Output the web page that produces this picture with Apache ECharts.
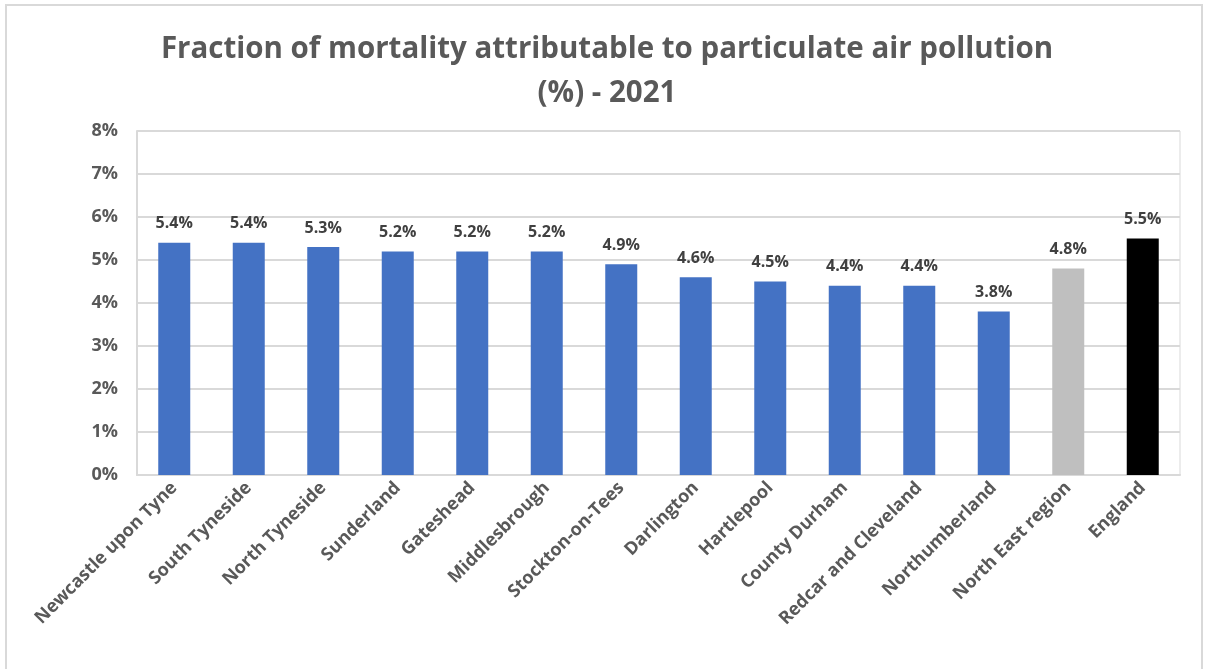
<!DOCTYPE html>
<html>
<head>
<meta charset="utf-8">
<style>
  html, body { margin: 0; padding: 0; background: #fff; }
  #chart { width: 1208px; height: 669px; }
  #frame { position: absolute; left: 5px; top: 4px; width: 1198px; height: 700px; border: 2px solid #d9d9d9; box-sizing: border-box; pointer-events: none; }
</style>
<script src="https://cdn.jsdelivr.net/npm/echarts@6/dist/echarts.min.js"></script>
</head>
<body>
<div id="chart"></div>
<div id="frame"></div>
<script>
// areas shown on the x axis
var categories = ['Newcastle upon Tyne', 'South Tyneside', 'North Tyneside', 'Sunderland', 'Gateshead',
  'Middlesbrough', 'Stockton-on-Tees', 'Darlington', 'Hartlepool', 'County Durham',
  'Redcar and Cleveland', 'Northumberland', 'North East region', 'England']
// fraction of mortality, in percent
var values = [5.4, 5.4, 5.3, 5.2, 5.2, 5.2, 4.9, 4.6, 4.5, 4.4, 4.4, 3.8, 4.8, 5.5]
// bar colours: local authorities blue, region grey, England black
var barColors = ['#4472c4', '#4472c4', '#4472c4', '#4472c4', '#4472c4', '#4472c4', '#4472c4',
  '#4472c4', '#4472c4', '#4472c4', '#4472c4', '#4472c4', '#bfbfbf', '#000000']

var font = '"Open Sans", sans-serif'
var chart = echarts.init(document.getElementById('chart'))

chart.setOption({
  animation: false,
  title: {
    text: 'Fraction of mortality attributable to particulate air pollution\n(%) - 2021',
    left: 602,
    top: 23,
    textAlign: 'center',
    textStyle: {
      fontFamily: font,
      fontSize: 29.5,
      fontWeight: 'bold',
      color: '#595959',
      lineHeight: 44
    }
  },
  grid: {
    left: 137,
    right: 28,
    top: 131,
    bottom: 194,
    show: true,
    borderColor: '#d9d9d9',
    borderWidth: 1
  },
  xAxis: {
    type: 'category',
    data: categories,
    axisLine: { lineStyle: { color: '#d9d9d9', width: 2 } },
    axisTick: { show: false },
    axisLabel: {
      interval: 0,
      rotate: 45,
      margin: 10,
      fontFamily: font,
      fontSize: 18,
      fontWeight: 'bold',
      color: '#595959'
    }
  },
  yAxis: {
    type: 'value',
    min: 0,
    max: 8,
    interval: 1,
    axisLine: { show: true, lineStyle: { color: '#d9d9d9', width: 2 } },
    axisTick: { show: false },
    splitLine: { lineStyle: { color: '#d9d9d9', width: 2 } },
    axisLabel: {
      margin: 19,
      formatter: '{value}%',
      fontFamily: font,
      fontSize: 18,
      fontWeight: 'bold',
      color: '#595959'
    }
  },
  series: [{
    type: 'bar',
    barWidth: 32,
    data: values.map(function (v, i) {
      return { value: v, itemStyle: { color: barColors[i] } }
    }),
    label: {
      show: true,
      position: 'top',
      distance: 11,
      formatter: function (p) { return p.value.toFixed(1) + '%' },
      fontFamily: font,
      fontSize: 16,
      fontWeight: 'bold',
      color: '#404040'
    }
  }]
})
</script>
</body>
</html>
